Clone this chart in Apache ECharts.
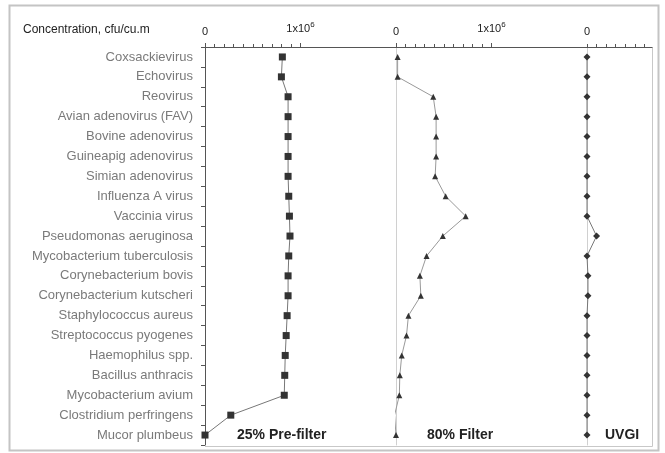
<!DOCTYPE html>
<html>
<head>
<meta charset="utf-8">
<script src="https://cdn.jsdelivr.net/npm/echarts@6/dist/echarts.min.js"></script>
<style>
    html, body { margin: 0; padding: 0; background: #fff; }
    #chart { width: 665px; height: 453px; }
</style>
</head>
<body>
<div id="chart"></div>
<script>
// organisms, top to bottom
const categories = [
    'Coxsackievirus', 'Echovirus', 'Reovirus', 'Avian adenovirus (FAV)',
    'Bovine adenovirus', 'Guineapig adenovirus', 'Simian adenovirus',
    'Influenza A virus', 'Vaccinia virus', 'Pseudomonas aeruginosa',
    'Mycobacterium tuberculosis', 'Corynebacterium bovis', 'Corynebacterium kutscheri',
    'Staphylococcus aureus', 'Streptococcus pyogenes', 'Haemophilus spp.',
    'Bacillus anthracis', 'Mycobacterium avium', 'Clostridium perfringens', 'Mucor plumbeus'
];

// concentrations, cfu/cu.m
const preFilter = [810000, 800000, 870000, 870000, 870000, 870000, 870000, 877000, 884000, 890000,
    877000, 870000, 870000, 860000, 850000, 840000, 835000, 830000, 270000, 0];
const filter80 = [17000, 17000, 390000, 420000, 420000, 420000, 410000, 520000, 730000, 490000,
    320000, 250000, 260000, 130000, 110000, 60000, 40000, 35000, -15000, 0];
const uvgi = [0, 0, 0, 0, 0, 0, 0, 0, 0, 100000, 0, 10000, 10000, 0, 0, 0, 0, 0, 0, 0];

const panelNames = ['25% Pre-filter', '80% Filter', 'UVGI'];
const headerText = 'Concentration, cfu/cu.m';

const FONT = 'Liberation Sans';
const plotTop = 47, plotHeight = 398;

const myChart = echarts.init(document.getElementById('chart'));

const dataGrids = [
    { left: 205, top: plotTop, width: 191, height: plotHeight },
    { left: 396, top: plotTop, width: 191, height: plotHeight },
    { left: 587, top: plotTop, width: 65, height: plotHeight }
];
// short grids that only carry the 0..1x10^6 tick scale
const tickGrids = [
    { left: 205, top: plotTop, width: 95.5, height: plotHeight },
    { left: 396, top: plotTop, width: 95.5, height: plotHeight }
];

const topLabel = {
    fontFamily: FONT, fontSize: 11, color: '#222', margin: 10,
    formatter: v => v === 0 ? '0' : '{a|1x10}{s|6}',
    rich: {
        a: { fontFamily: FONT, fontSize: 11, color: '#222' },
        s: { fontFamily: FONT, fontSize: 8, color: '#222', verticalAlign: 'top', padding: [0, 0, 8, 0] }
    }
};

const xAxes = [
    // data axes
    { gridIndex: 0, type: 'value', position: 'top', min: 0, max: 2000000,
      axisLine: { show: true, lineStyle: { color: '#555' } }, axisTick: { show: false },
      axisLabel: { show: false }, splitLine: { show: false } },
    { gridIndex: 1, type: 'value', position: 'top', min: 0, max: 2000000,
      axisLine: { show: true, lineStyle: { color: '#555' } }, axisTick: { show: false },
      axisLabel: { show: false }, splitLine: { show: false } },
    { gridIndex: 2, type: 'value', position: 'top', min: 0, max: 680000, interval: 100000,
      axisLine: { show: true, lineStyle: { color: '#555' } },
      axisTick: { show: true, length: 3, lineStyle: { color: '#555' } },
      axisLabel: Object.assign({}, topLabel, { showMaxLabel: false,
          formatter: v => v === 0 ? '0' : '' }),
      splitLine: { show: false } },
    // tick-only axes
    { gridIndex: 3, type: 'value', position: 'top', min: 0, max: 1000000, interval: 1000000,
      axisLine: { show: false },
      axisTick: { show: true, length: 4, lineStyle: { color: '#555' } },
      minorTick: { show: true, splitNumber: 10, length: 3, lineStyle: { color: '#555' } },
      axisLabel: topLabel, splitLine: { show: false } },
    { gridIndex: 4, type: 'value', position: 'top', min: 0, max: 1000000, interval: 1000000,
      axisLine: { show: false },
      axisTick: { show: true, length: 4, lineStyle: { color: '#555' } },
      minorTick: { show: true, splitNumber: 10, length: 3, lineStyle: { color: '#555' } },
      axisLabel: topLabel, splitLine: { show: false } }
];

const yAxes = [
    { gridIndex: 0, type: 'category', data: categories, inverse: true,
      axisLine: { show: true, lineStyle: { color: '#555' } },
      axisTick: { show: true, length: 4, lineStyle: { color: '#555' } },
      axisLabel: { fontFamily: FONT, fontSize: 13, color: '#7a7a7a', margin: 12 } },
    { gridIndex: 1, type: 'category', data: categories, inverse: true,
      axisLine: { show: true, lineStyle: { color: '#d0d0d0' } },
      axisTick: { show: false }, axisLabel: { show: false } },
    { gridIndex: 2, type: 'category', data: categories, inverse: true,
      axisLine: { show: true, lineStyle: { color: '#d0d0d0' } },
      axisTick: { show: false }, axisLabel: { show: false } },
    { gridIndex: 3, type: 'category', data: categories, show: false },
    { gridIndex: 4, type: 'category', data: categories, show: false }
];

function makeSeries(values, idx, symbol, size, lineColor) {
    return {
        name: panelNames[idx],
        type: 'line',
        xAxisIndex: idx,
        yAxisIndex: idx,
        data: values.map((v, i) => [v, categories[i]]),
        symbol: symbol,
        symbolSize: size,
        itemStyle: { color: '#333' },
        lineStyle: { color: lineColor, width: 1 },
        animation: false
    };
}

const option = {
    animation: false,
    grid: dataGrids.concat(tickGrids).map(g => Object.assign({ containLabel: false }, g)),
    xAxis: xAxes,
    yAxis: yAxes,
    series: [
        makeSeries(preFilter, 0, 'rect', 7, '#777'),
        makeSeries(filter80, 1, 'triangle', 6, '#999'),
        makeSeries(uvgi, 2, 'diamond', 7, '#777')
    ],
    graphic: [
        // outer frame
        { type: 'rect', shape: { x: 9.5, y: 5.5, width: 649, height: 445 },
          style: { fill: null, stroke: '#c4c4c4', lineWidth: 2 }, silent: true },
        // plot area right and bottom border
        { type: 'polyline', shape: { points: [[652.5, 47], [652.5, 446.5], [205, 446.5]] },
          style: { fill: null, stroke: '#c8c8c8', lineWidth: 1 }, silent: true },
        { type: 'text', left: 23, top: 24,
          style: { text: headerText, font: '12px "Liberation Sans"', fill: '#222' } },
        { type: 'text', left: 237, top: 428,
          style: { text: panelNames[0], font: 'bold 14px "Liberation Sans"', fill: '#222' } },
        { type: 'text', left: 427, top: 428,
          style: { text: panelNames[1], font: 'bold 14px "Liberation Sans"', fill: '#222' } },
        { type: 'text', left: 605, top: 428,
          style: { text: panelNames[2], font: 'bold 14px "Liberation Sans"', fill: '#222' } }
    ]
};

myChart.setOption(option);
</script>
</body>
</html>
